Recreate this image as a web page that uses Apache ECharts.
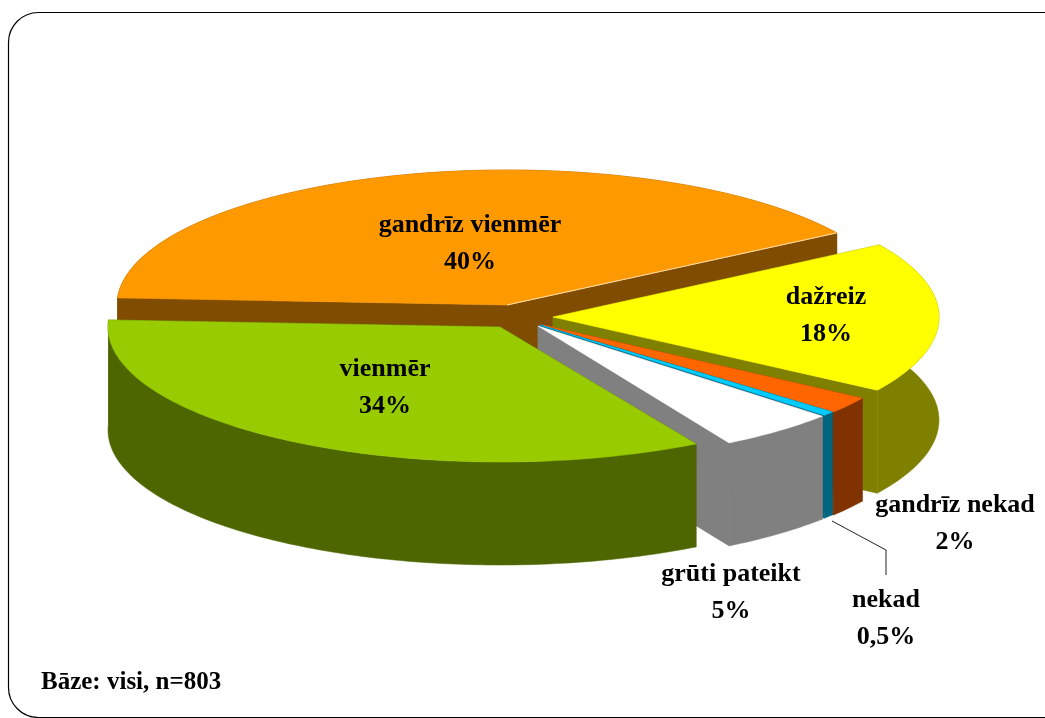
<!DOCTYPE html>
<html>
<head>
<meta charset="utf-8">
<style>
  html, body { margin: 0; padding: 0; background: #fff; overflow: hidden; }
  #chart { width: 1045px; height: 718px; }
</style>
<script src="https://cdn.jsdelivr.net/npm/echarts@6/dist/echarts.min.js"></script>
</head>
<body>
<div id="chart"></div>
<script>
// dati
const categories = ['gandrīz vienmēr', 'dažreiz', 'gandrīz nekad', 'nekad', 'grūti pateikt', 'vienmēr']
const values = [40, 18, 2, 0.5, 5, 34]
const valueLabels = ['40%', '18%', '2%', '0,5%', '5%', '34%']

// izskats
const topColors = ['#ff9900', '#ffff00', '#ff6600', '#00ccff', '#ffffff', '#99cc00']
const wallColors = ['#804d00', '#808000', '#803300', '#006680', '#808080', '#4d6600']
const apexX = [507, 553, 543, 540, 538, 500]
const apexY = [305, 317, 325, 325, 326, 327]
const radiusX = [390, 386, 380, 382, 382, 392]
const radiusY = 135
const depth = 103
const startAngle = 177
const labelX = [470, 826, 955, 886, 731, 385]
const labelY = [244, 316, 524, 619, 593, 388]

const total = values.reduce((a, b) => a + b, 0)

const renderSlice = (params, api) => {
  const i = params.dataIndex
  let before = 0
  for (let k = 0; k < i; k++) before += values[k]
  const a1 = startAngle - (before / total) * 360
  const a2 = a1 - (api.value(0) / total) * 360

  const point = (deg, dy) => {
    const r = (deg * Math.PI) / 180
    return [
      apexX[i] + radiusX[i] * Math.cos(r),
      apexY[i] - radiusY * Math.sin(r) + dy
    ]
  }
  const arc = (dy) => {
    const pts = []
    const steps = Math.max(2, Math.ceil(Math.abs(a2 - a1)))
    for (let s = 0; s <= steps; s++) pts.push(point(a1 + ((a2 - a1) * s) / steps, dy))
    return pts
  }
  const apex = (dy) => [apexX[i], apexY[i] + dy]
  const poly = (points, fill) => ({
    type: 'polygon',
    shape: { points },
    style: { fill, stroke: fill, lineWidth: 0.5 }
  })

  const children = [
    // griezuma malas
    poly([apex(0), point(a1, 0), point(a1, depth), apex(depth)], wallColors[i]),
    poly([apex(0), point(a2, 0), point(a2, depth), apex(depth)], wallColors[i]),
    // ārējā siena
    poly(arc(0).concat(arc(depth).reverse()), wallColors[i]),
    // virsma
    poly([apex(0)].concat(arc(0)), topColors[i])
  ]
  // gaišā mala oranžajam sektoram
  if (i === 0) {
    children.push({
      type: 'polyline',
      shape: { points: [apex(0), point(a2, 0)] },
      style: { fill: 'none', stroke: '#ffe0b0', lineWidth: 1 }
    })
  }
  return { type: 'group', children }
}

const labelFont = { fontFamily: '"Liberation Serif"', fontWeight: 'bold', fontSize: 26 }

const chart = echarts.init(document.getElementById('chart'))
chart.setOption({
  backgroundColor: '#ffffff',
  animation: false,
  series: [
    {
      type: 'custom',
      coordinateSystem: 'none',
      renderItem: renderSlice,
      data: values.map((v) => [v]),
      silent: true
    }
  ],
  graphic: [
    {
      type: 'rect',
      silent: true,
      z: 1,
      shape: { x: 8.5, y: 12.5, width: 1080, height: 705, r: 30 },
      style: { fill: 'none', stroke: '#000', lineWidth: 1.2 }
    },
    {
      type: 'polyline',
      silent: true,
      z: 10,
      shape: { points: [[832, 521], [886, 550], [886, 575]] },
      style: { fill: 'none', stroke: '#222', lineWidth: 1 }
    },
    ...categories.map((name, i) => ({
      type: 'text',
      silent: true,
      z: 10,
      x: labelX[i],
      y: labelY[i],
      style: {
        text: name + '\n' + valueLabels[i],
        align: 'center',
        verticalAlign: 'middle',
        lineHeight: 37,
        fill: '#000',
        ...labelFont
      }
    })),
    {
      type: 'text',
      silent: true,
      z: 10,
      x: 41,
      y: 683,
      style: {
        text: 'Bāze: visi, n=803',
        verticalAlign: 'middle',
        fill: '#000',
        ...labelFont,
        fontSize: 25
      }
    }
  ]
})
</script>
</body>
</html>
